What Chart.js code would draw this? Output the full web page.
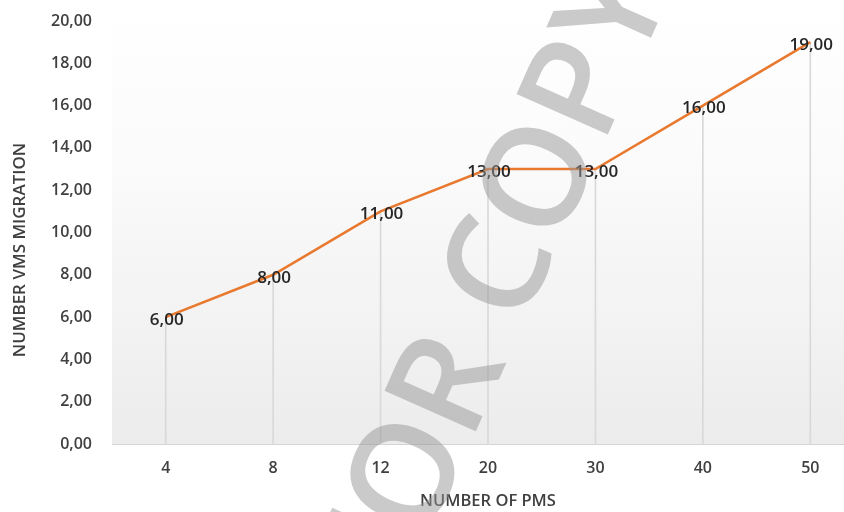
<!DOCTYPE html>
<html>
<head>
<meta charset="utf-8">
<script src="https://cdn.jsdelivr.net/npm/chart.js@4.4.1/dist/chart.umd.min.js"></script>
<style>
  html, body { margin: 0; padding: 0; background: #ffffff; overflow: hidden; }
  body { width: 844px; height: 512px; }
  #wrap { width: 864px; height: 512px; position: relative; }
</style>
</head>
<body>
<div id="wrap"><canvas id="chart"></canvas></div>
<script>
// Number of physical machines (categories) and VM migrations per run
const pmCounts = ['4', '8', '12', '20', '30', '40', '50'];
const vmMigrations = [6, 8, 11, 13, 13, 16, 19];
const yTicks = [0, 2, 4, 6, 8, 10, 12, 14, 16, 18, 20];

const xTitle = 'NUMBER OF PMS';
const yTitle = 'NUMBER VMS MIGRATION';
const stamp = 'FOR COPY';

const FONT = '"Open Sans", "DejaVu Sans", sans-serif';
const WEIGHT = '600';
const fmt = v => v.toFixed(2).replace('.', ',');

// soft grey gradient behind the plot area
const plotBackground = {
  id: 'plotBackground',
  beforeDraw(chart) {
    const { ctx, chartArea: a } = chart;
    ctx.save();
    ctx.fillStyle = '#ffffff';
    ctx.fillRect(0, 0, chart.width, chart.height);
    const g = ctx.createLinearGradient(0, 0, 0, a.bottom);
    g.addColorStop(0, '#ffffff');
    g.addColorStop(0.35, '#fbfbfb');
    g.addColorStop(1, '#ececec');
    ctx.fillStyle = g;
    ctx.fillRect(a.left, 0, a.right - a.left, a.bottom);
    ctx.restore();
  }
};

// value labels centred on each point, plus the vertical axis title
const valueLabels = {
  id: 'valueLabels',
  afterDatasetsDraw(chart) {
    const { ctx } = chart;
    const meta = chart.getDatasetMeta(1);
    ctx.save();
    ctx.font = WEIGHT + ' 17px ' + FONT;
    ctx.fillStyle = '#262626';
    ctx.textAlign = 'center';
    ctx.textBaseline = 'middle';
    meta.data.forEach((pt, i) => {
      ctx.fillText(fmt(vmMigrations[i]), pt.x + 1, pt.y + 3);
    });
    ctx.restore();

    ctx.save();
    ctx.translate(20, 250);
    ctx.rotate(-Math.PI / 2);
    ctx.font = WEIGHT + ' 17px ' + FONT;
    ctx.fillStyle = '#404040';
    ctx.textAlign = 'center';
    ctx.textBaseline = 'middle';
    ctx.fillText(yTitle, 0, 0);
    ctx.restore();
  }
};

// diagonal grey stamp across the figure, anchored on the centre of its "R"
const stampText = {
  id: 'stampText',
  afterDraw(chart) {
    const { ctx } = chart;
    const size = 140;
    ctx.save();
    ctx.font = '600 ' + size + 'px ' + FONT;
    const lead = ctx.measureText('FO').width + ctx.measureText('R').width / 2;
    ctx.translate(443, 382);
    ctx.rotate(-66 * Math.PI / 180);
    ctx.fillStyle = 'rgba(150,150,150,0.5)';
    ctx.textAlign = 'left';
    ctx.textBaseline = 'alphabetic';
    ctx.fillText(stamp, -lead, size * 0.357);
    ctx.restore();
  }
};

new Chart(document.getElementById('chart'), {
  data: {
    labels: pmCounts,
    datasets: [
      {
        type: 'bar',
        data: vmMigrations,
        backgroundColor: '#d9d9d9',
        barThickness: 1,
        order: 1
      },
      {
        type: 'line',
        data: vmMigrations,
        borderColor: '#e8792f',
        borderWidth: 2.6,
        pointRadius: 0,
        tension: 0,
        order: 0
      }
    ]
  },
  options: {
    responsive: true,
    maintainAspectRatio: false,
    animation: false,
    layout: { padding: { top: 21, right: 0, bottom: 0, left: 0 } },
    plugins: {
      legend: { display: false },
      tooltip: { enabled: false }
    },
    scales: {
      x: {
        offset: true,
        grid: { display: false, drawTicks: false },
        border: { display: true, color: '#d4d4d4', width: 1 },
        ticks: { color: '#404040', font: { family: FONT, size: 16, weight: WEIGHT }, padding: 15 },
        title: {
          display: true,
          text: xTitle,
          color: '#404040',
          font: { family: FONT, size: 16.5, weight: WEIGHT },
          padding: { top: 0, bottom: 1 }
        },
        afterFit(s) { s.height = 68; }
      },
      y: {
        min: 0,
        max: 20,
        afterBuildTicks(s) { s.ticks = yTicks.map(v => ({ value: v })); },
        grid: { display: false, drawTicks: false },
        border: { display: false },
        ticks: {
          color: '#404040',
          font: { family: FONT, size: 16, weight: WEIGHT },
          padding: 20,
          callback: v => fmt(v)
        },
        afterFit(s) {
          s.width = 112;
          s.paddingTop = 8;
          s.paddingBottom = 8;
        }
      }
    }
  },
  plugins: [plotBackground, valueLabels, stampText]
});
</script>
</body>
</html>
